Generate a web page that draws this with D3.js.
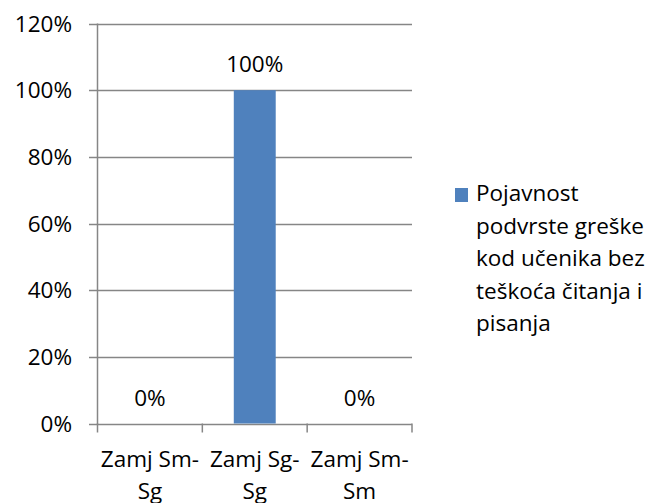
<!DOCTYPE html>
<html><head><meta charset="utf-8">
<script src="https://cdn.jsdelivr.net/npm/d3@7"></script>
<style>body{margin:0;background:#fff}svg{display:block}text{font-family:"Open Sans",sans-serif;fill:#000}</style>
</head><body><svg id="c" width="651" height="503"></svg>
<script>
const categories = [["Zamj Sm-","Sg"],["Zamj Sg-","Sg"],["Zamj Sm-","Sm"]];
const values = [0, 1, 0];
const valueLabels = ["0%","100%","0%"];
const yTicks = [0,0.2,0.4,0.6,0.8,1.0,1.2];
const legendLines = ["Pojavnost","podvrste greške","kod učenika bez","teškoća čitanja i","pisanja"];

(function(){
const svg = d3.select("#c");
const pL=97.5, pR=412, pT=23.5, pB=423.5;
const x = d3.scaleBand().domain(d3.range(categories.length)).range([pL,pR]);
const y = d3.scaleLinear().domain([0,1.2]).range([pB,pT]);
const grey="#868686", fs=22.5;

svg.append("g").selectAll("line").data(yTicks).join("line")
  .attr("x1",pL-8.5).attr("x2",pR).attr("y1",d=>Math.round(y(d))+0.5).attr("y2",d=>Math.round(y(d))+0.5)
  .attr("stroke",grey).attr("stroke-width",1.5);
svg.append("line").attr("x1",pL).attr("x2",pL).attr("y1",pT).attr("y2",pB+0.5).attr("stroke",grey).attr("stroke-width",1.5);
svg.append("g").selectAll("text").data(yTicks).join("text")
  .attr("x",72).attr("y",d=>y(d)+8).attr("text-anchor","end").attr("font-size",fs)
  .text(d=>d3.format(".0%")(d));
const tickX = d3.range(categories.length+1).map(i=>i<categories.length?x(i):pR);
svg.append("g").selectAll("line").data(tickX).join("line")
  .attr("x1",d=>d).attr("x2",d=>d).attr("y1",pB).attr("y2",pB+9)
  .attr("stroke",grey).attr("stroke-width",1.5);
const bw = x.bandwidth()*0.4;
svg.append("g").selectAll("rect").data(values).join("rect")
  .attr("x",(d,i)=>x(i)+x.bandwidth()/2-bw/2).attr("width",bw)
  .attr("y",d=>y(d)).attr("height",d=>y(0)-y(d)).attr("fill","#4F81BD");
svg.append("g").selectAll("text").data(values).join("text")
  .attr("x",(d,i)=>x(i)+x.bandwidth()/2).attr("y",d=>y(d)-18)
  .attr("text-anchor","middle").attr("font-size",fs).text((d,i)=>valueLabels[i]);
const cl = svg.append("g").selectAll("text").data(categories).join("text")
  .attr("text-anchor","middle").attr("font-size",fs);
cl.selectAll("tspan").data((d,i)=>d.map(t=>({t,i}))).join("tspan")
  .attr("x",d=>x(d.i)+x.bandwidth()/2).attr("y",(d,j)=>467+j*32).text(d=>d.t);
svg.append("rect").attr("x",455).attr("y",188).attr("width",13).attr("height",14).attr("fill","#4F81BD");
svg.append("g").selectAll("text").data(legendLines).join("text")
  .attr("x",476).attr("y",(d,i)=>201+i*32.5).attr("font-size",fs).text(d=>d);
})();
</script></body></html>
